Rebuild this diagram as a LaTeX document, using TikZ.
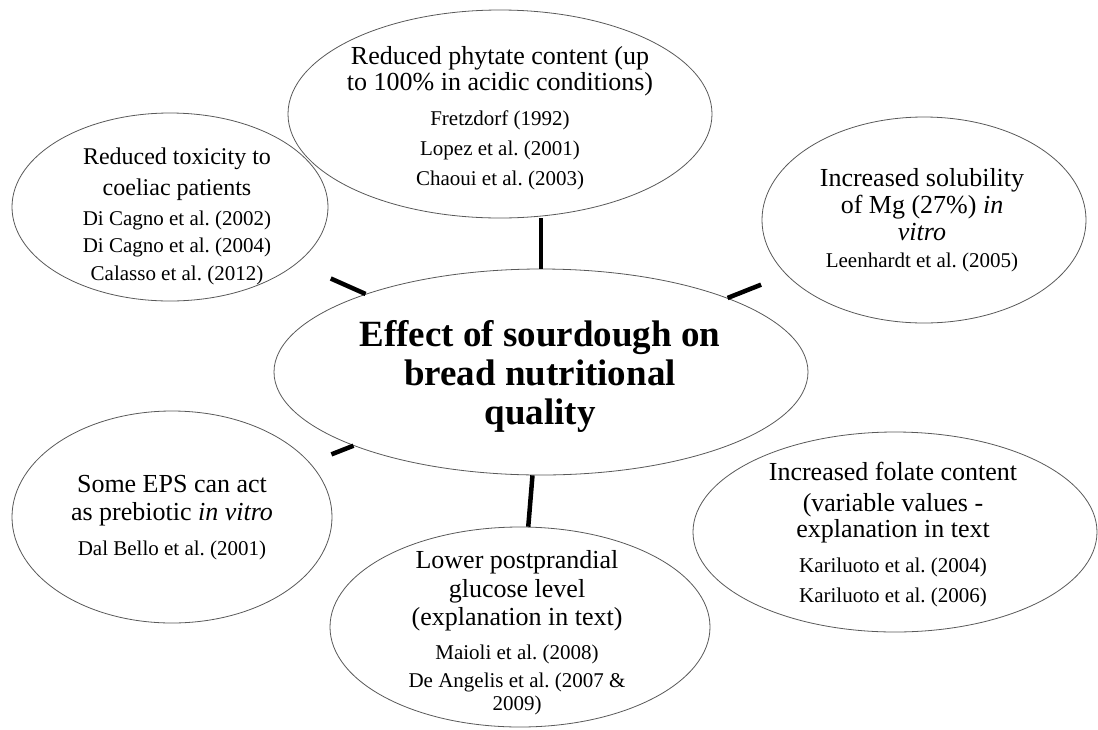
\documentclass[tikz,border=0pt]{standalone}
\usepackage{fontspec}
\setmainfont{Liberation Serif}
\usepackage{tikz}
\usetikzlibrary{shapes.geometric}

\newcommand{\hd}{\fontsize{26}{28}\selectfont}
\newcommand{\rf}{\fontsize{21}{30}\selectfont}
\frenchspacing

\begin{document}
\begin{tikzpicture}[
  x=1pt, y=-1pt,
  bubble/.style={ellipse, draw=black!65, line width=0.8pt, fill=white, inner sep=0pt},
  blurb/.style={align=center, font=\rf, inner sep=0pt},
  link/.style={line width=4.5pt, black},
]
\useasboundingbox (0,0) rectangle (1098,729);

% ellipses
\node[bubble, minimum width=534pt, minimum height=206pt] (centre) at (541,372) {};
\node[bubble, minimum width=424pt, minimum height=208pt] (phytate) at (500,114) {};
\node[bubble, minimum width=316pt, minimum height=188pt] (coeliac) at (170,207) {};
\node[bubble, minimum width=324pt, minimum height=206pt] (magnesium) at (924,220) {};
\node[bubble, minimum width=320pt, minimum height=212pt] (eps) at (172,517) {};
\node[bubble, minimum width=380pt, minimum height=200pt] (glucose) at (520,627) {};
\node[bubble, minimum width=404pt, minimum height=200pt] (folate) at (895,532) {};

% connectors
\draw[link] (centre.north) -- (centre |- phytate.south);
\draw[link, shorten >=37pt] (centre) -- (coeliac);
\draw[link, shorten >=27pt] (centre) -- (magnesium);
\draw[link, shorten >=23pt] (centre) -- (eps);
\draw[link] (centre) -- (glucose);

% texts
\node[blurb, font=\fontsize{37}{39}\selectfont\bfseries] (centre-t) at (540,376)
  {Effect of sourdough on\\bread nutritional\\quality};
\node[blurb] (phytate-t) at (500,118)
  {{\hd Reduced phytate content (up}\\[-4pt]{\hd to 100\% in acidic conditions)}\\[5pt]Fretzdorf (1992)\\Lopez et al. (2001)\\Chaoui et al. (2003)};
\node[blurb] (coeliac-t) at (177,216)
  {{\fontsize{24}{28}\selectfont Reduced toxicity to}\\[1pt]{\fontsize{24}{28}\selectfont coeliac patients}\\[0pt]Di Cagno et al. (2002)\\[-2.5pt]Di Cagno et al. (2004)\\[-2.5pt]Calasso et al. (2012)};
\node[blurb] (magnesium-t) at (922,220)
  {{\hd Increased solubility}\\[-3pt]{\hd of Mg (27\%) \textit{in}}\\[-3pt]{\hd \textit{vitro}}\\[-3pt]Leenhardt et al. (2005)};
\node[blurb] (eps-t) at (172,518)
  {{\hd Some EPS can act}\\[-2pt]{\hd as prebiotic \textit{in vitro}}\\[5pt]Dal Bello et al. (2001)};
\node[blurb] (glucose-t) at (517,633)
  {{\hd Lower postprandial}\\[-1.5pt]{\hd glucose level}\\[-1.5pt]{\hd (explanation in text)}\\[4pt]Maioli et al. (2008)\\[-2pt]De Angelis et al. (2007 \&\\[-7pt]2009)};
\node[blurb] (folate-t) at (893,535)
  {{\hd Increased folate content}\\[1pt]{\hd (variable values -}\\[-4pt]{\hd explanation in text}\\[5pt]Kariluoto et al. (2004)\\Kariluoto et al. (2006)};

\end{tikzpicture}
\end{document}
